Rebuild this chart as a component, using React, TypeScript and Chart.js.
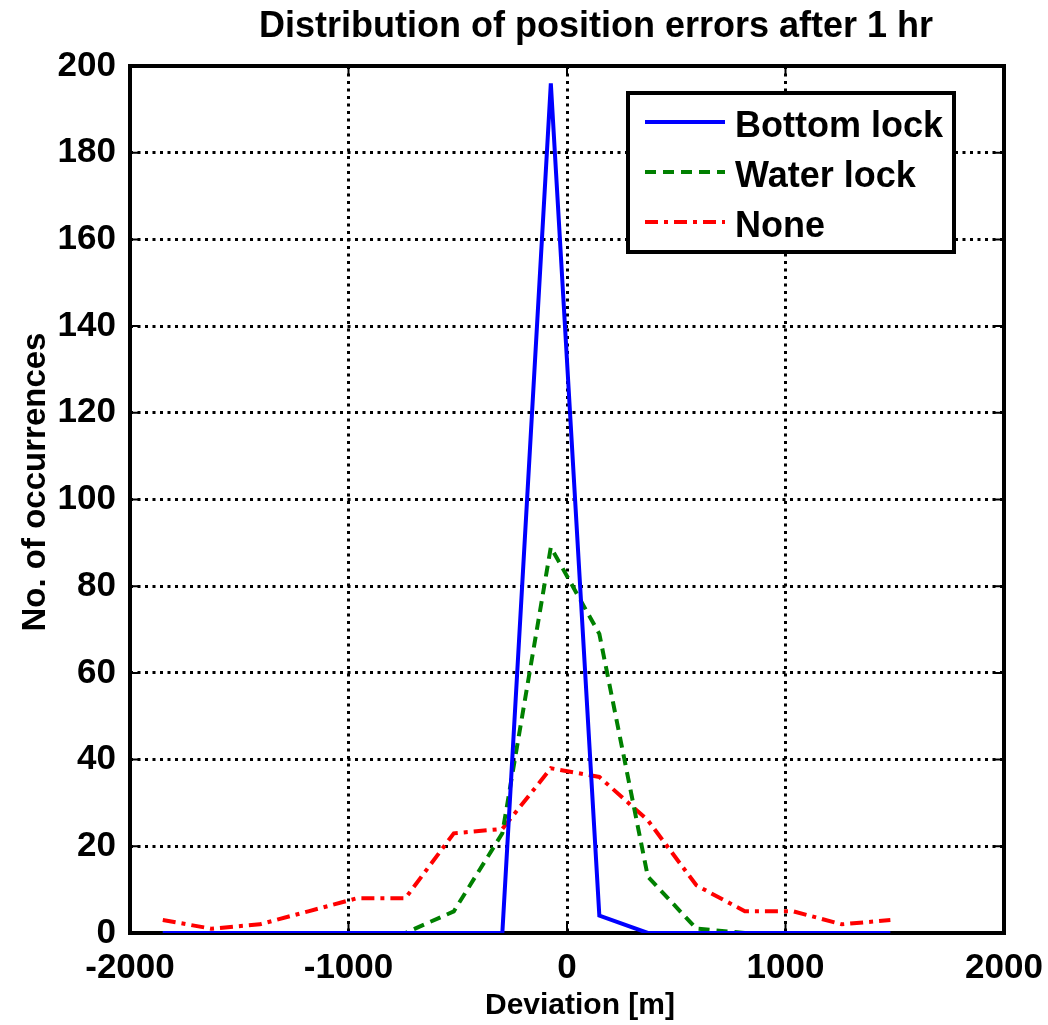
import React, { useEffect, useRef } from 'react';
import { Chart, registerables } from 'chart.js';

Chart.register(...registerables);

const titleText = 'Distribution of position errors after 1 hr';
const xTitle = 'Deviation [m]';
const yTitle = 'No. of occurrences';

const deviation = [-1850, -1628, -1406, -1184, -962, -740, -518, -296, -74, 148, 370, 592, 814, 1036, 1258, 1480];
const bottomLock = [0, 0, 0, 0, 0, 0, 0, 0, 196, 4, 0, 0, 0, 0, 0, 0];
const waterLock = [0, 0, 0, 0, 0, 0, 5, 23, 89, 69, 13, 1, 0, 0, 0, 0];
const noneLock = [3, 1, 2, 5, 8, 8, 23, 24, 38, 36, 26, 11, 5, 5, 2, 3];

const seriesNames = ['Bottom lock', 'Water lock', 'None'];

const FONT = "'Liberation Sans', Arial, Helvetica, sans-serif";

const boxPlugin = {
  id: 'matlabBox',
  beforeDatasetsDraw(chart: any) {
    const { ctx, chartArea: a, scales } = chart;
    ctx.save();
    ctx.strokeStyle = '#000';
    ctx.lineWidth = 2;
    ctx.setLineDash([]);
    const tl = 9;
    scales.x.ticks.forEach((t: any) => {
      const px = scales.x.getPixelForValue(t.value);
      ctx.beginPath();
      ctx.moveTo(px, a.bottom);
      ctx.lineTo(px, a.bottom - tl);
      ctx.moveTo(px, a.top);
      ctx.lineTo(px, a.top + tl);
      ctx.stroke();
    });
    scales.y.ticks.forEach((t: any) => {
      const py = scales.y.getPixelForValue(t.value);
      ctx.beginPath();
      ctx.moveTo(a.left, py);
      ctx.lineTo(a.left + tl, py);
      ctx.moveTo(a.right, py);
      ctx.lineTo(a.right - tl, py);
      ctx.stroke();
    });
    ctx.lineWidth = 4;
    ctx.strokeRect(a.left, a.top, a.right - a.left, a.bottom - a.top);
    ctx.restore();
  },
  afterDatasetsDraw(chart: any) {
    const { ctx, chartArea: a } = chart;
    ctx.save();
    const bx = a.right - 376;
    const by = a.top + 27;
    const bw = 326;
    const bh = 159;
    ctx.fillStyle = '#fff';
    ctx.fillRect(bx, by, bw, bh);
    ctx.strokeStyle = '#000';
    ctx.lineWidth = 4;
    ctx.setLineDash([]);
    ctx.strokeRect(bx, by, bw, bh);
    chart.data.datasets.forEach((ds: any, i: number) => {
      const ly = by + 29 + 50 * i;
      ctx.save();
      ctx.strokeStyle = ds.borderColor;
      ctx.lineWidth = ds.borderWidth;
      ctx.setLineDash(ds.borderDash || []);
      ctx.beginPath();
      ctx.moveTo(bx + 17, ly);
      ctx.lineTo(bx + 97, ly);
      ctx.stroke();
      ctx.restore();
      ctx.fillStyle = '#000';
      ctx.font = `bold 36px ${FONT}`;
      ctx.textAlign = 'left';
      ctx.textBaseline = 'alphabetic';
      ctx.fillText(ds.label, bx + 107, by + 44 + 50 * i);
    });
    ctx.restore();
  },
  afterDraw(chart: any) {
    const { ctx } = chart;
    ctx.save();
    ctx.fillStyle = '#000';
    ctx.textBaseline = 'alphabetic';
    ctx.textAlign = 'center';
    ctx.font = `bold 36px ${FONT}`;
    ctx.fillText(titleText, 596, 37);
    ctx.font = `bold 30px ${FONT}`;
    ctx.fillText(xTitle, 580, 1014);
    ctx.save();
    ctx.translate(45, 482);
    ctx.rotate(-Math.PI / 2);
    ctx.font = `bold 33px ${FONT}`;
    ctx.fillText(yTitle, 0, 0);
    ctx.restore();
    ctx.restore();
  },
};

export default function App() {
  const ref = useRef<HTMLCanvasElement | null>(null);
  useEffect(() => {
    if (!ref.current) return;
    const mk = (ys: number[]) => deviation.map((x, i) => ({ x, y: ys[i] }));
    const chart = new Chart(ref.current, {
      type: 'line',
      data: {
        datasets: [
          { label: seriesNames[0], data: mk(bottomLock), borderColor: '#0000ff', borderWidth: 4, borderDash: [], pointRadius: 0, tension: 0, fill: false },
          { label: seriesNames[1], data: mk(waterLock), borderColor: '#008000', borderWidth: 4, borderDash: [11, 7], pointRadius: 0, tension: 0, fill: false },
          { label: seriesNames[2], data: mk(noneLock), borderColor: '#ff0000', borderWidth: 4, borderDash: [13, 6, 4, 6], pointRadius: 0, tension: 0, fill: false },
        ],
      },
      options: {
        responsive: false,
        animation: false,
        events: [],
        layout: { padding: { top: 66, right: 44, left: 0, bottom: 0 } },
        plugins: { legend: { display: false }, title: { display: false }, tooltip: { enabled: false } },
        scales: {
          x: {
            type: 'linear',
            min: -2000,
            max: 2000,
            afterFit: (s: any) => { s.height = 92; },
            ticks: { stepSize: 1000, color: '#000', padding: 0, autoSkip: false, maxRotation: 0, callback: (v: any) => String(v), font: { family: FONT, size: 35, weight: 'bold' } },
            grid: { color: '#000', lineWidth: 3, drawTicks: true, tickLength: 14, tickColor: 'rgba(0,0,0,0)' },
            border: { display: false, dash: [3, 4.5] },
          },
          y: {
            type: 'linear',
            min: 0,
            max: 200,
            afterFit: (s: any) => { s.width = 130; },
            ticks: { stepSize: 20, color: '#000', padding: 0, autoSkip: false, callback: (v: any) => String(v), font: { family: FONT, size: 35, weight: 'bold' } },
            grid: { color: '#000', lineWidth: 3, drawTicks: true, tickLength: 14, tickColor: 'rgba(0,0,0,0)' },
            border: { display: false, dash: [3, 4.5] },
          },
        },
      },
      plugins: [boxPlugin],
    } as any);
    return () => chart.destroy();
  }, []);
  return (
    <div style={{ position: 'absolute', left: 0, top: 0, width: 1048, height: 1025, background: '#fff' }}>
      <canvas ref={ref} width={1048} height={1025} style={{ display: 'block' }} />
    </div>
  );
}
